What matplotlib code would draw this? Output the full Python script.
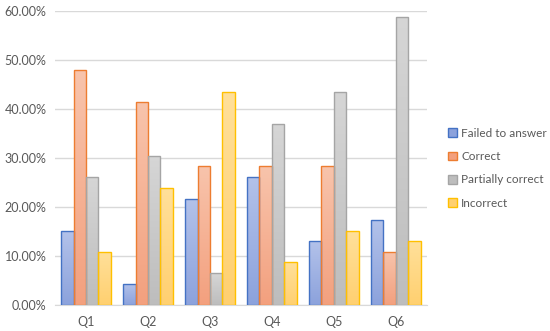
import numpy as np
import matplotlib
matplotlib.use('Agg')
import matplotlib.pyplot as plt
from matplotlib.colors import LinearSegmentedColormap
from matplotlib.patches import Patch
from matplotlib.ticker import PercentFormatter

plt.rcParams['font.family'] = ['Lato', 'DejaVu Sans']

### Data (percent of students) ###
questions = ['Q1', 'Q2', 'Q3', 'Q4', 'Q5', 'Q6']
series_names = ['Failed to answer', 'Correct', 'Partially correct', 'Incorrect']
failed = [15.2, 4.3, 21.7, 26.1, 13.0, 17.4]
correct = [47.8, 41.3, 28.3, 28.3, 28.3, 10.9]
partial = [26.1, 30.4, 6.5, 37.0, 43.5, 58.7]
incorrect = [10.9, 23.9, 43.5, 8.7, 15.2, 13.0]

# edge colour, light (top) and dark (bottom) of the gradient fill
edges = ['#4472C4', '#ED7D31', '#A5A5A5', '#FFC000']
tops = ['#B3C2EA', '#F8C4AC', '#D6D6D6', '#FFE09A']
bottoms = ['#8CA2DC', '#F3A07E', '#BDBDBD', '#FFD070']

fig = plt.figure(figsize=(5.5, 3.31), dpi=100)
ax = fig.add_axes([0.1, 0.078, 0.676, 0.89])

x = np.arange(len(questions))
width = 0.2
all_series = [failed, correct, partial, incorrect]
grad = np.linspace(1, 0, 256).reshape(-1, 1)

for i, vals in enumerate(all_series):
    bars = ax.bar(x + (i - 1.5) * width, vals, width, facecolor='none',
                  edgecolor=edges[i], linewidth=1.0, zorder=3)
    cmap = LinearSegmentedColormap.from_list('g%d' % i, [bottoms[i], tops[i]])
    for b in bars:
        bx, by = b.get_x(), b.get_y()
        im = ax.imshow(grad, cmap=cmap, aspect='auto', zorder=2,
                       extent=[bx, bx + b.get_width(), by, by + b.get_height()],
                       interpolation='bicubic')
        im.set_clip_path(b)

ax.set_xlim(-0.5, 5.5)
ax.set_ylim(0, 60)
ax.set_yticks(np.arange(0, 61, 10))
ax.yaxis.set_major_formatter(PercentFormatter(decimals=2))
ax.set_xticks(x)
ax.set_xticklabels(questions)
ax.grid(axis='y', color='#D9D9D9', linewidth=1.0, zorder=0)
ax.set_axisbelow(True)
for s in ['top', 'right', 'left']:
    ax.spines[s].set_visible(False)
ax.spines['bottom'].set_color('#D9D9D9')
ax.tick_params(axis='y', length=0, labelsize=9, colors='#595959', pad=6)
ax.tick_params(axis='x', length=0, labelsize=9, colors='#595959', pad=8)

handles = [Patch(facecolor=bottoms[i], edgecolor=edges[i], linewidth=1.0)
           for i in range(4)]
ax.legend(handles, series_names, loc='center left', bbox_to_anchor=(1.035, 0.465),
          frameon=False, fontsize=8.5, labelcolor='#595959', handlelength=0.75,
          handleheight=0.75, handletextpad=0.35, labelspacing=1.05,
          borderaxespad=0.3)

fig.savefig('out.png', dpi=100)
